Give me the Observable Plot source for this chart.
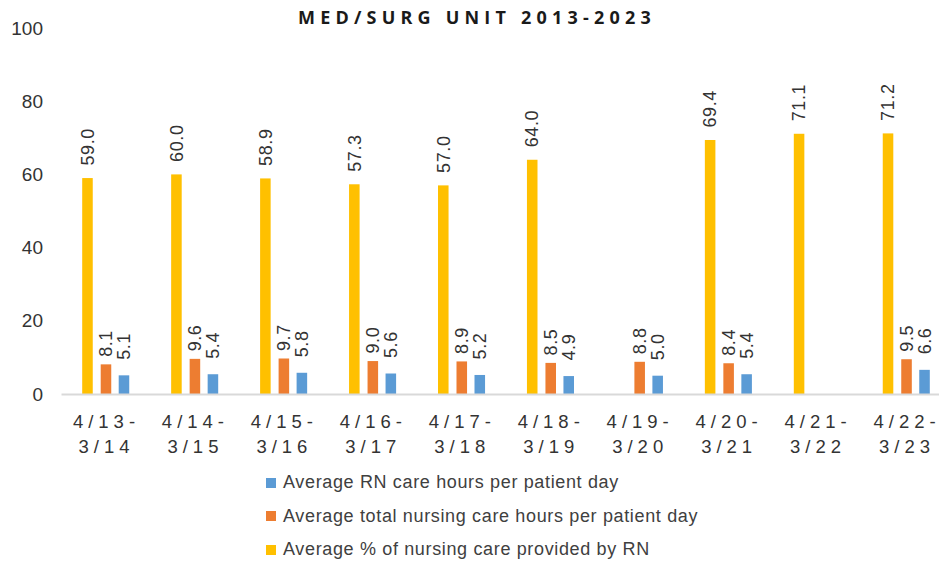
<!DOCTYPE html>
<html>
<head>
<meta charset="utf-8">
<script src="https://cdn.jsdelivr.net/npm/d3@7"></script>
<script src="https://cdn.jsdelivr.net/npm/@observablehq/plot@0.6"></script>
<style>
  html, body { margin: 0; padding: 0; background: #fff; overflow: hidden; }
  body { position: relative; width: 939px; height: 562px; font-family: "Liberation Sans", Arial, sans-serif; color: #404040; }
  #title { position: absolute; left: 298px; top: 4px; white-space: nowrap;
           font-family: "Open Sans", "Liberation Sans", sans-serif; font-weight: bold; font-size: 18px; letter-spacing: 5.2px; color: #1a1a1a; line-height: 26px; }
  #chart { position: absolute; left: 0; top: 0; width: 951px; }
  #chart svg { display: block; overflow: visible; max-width: none !important; }
  #chart g[aria-label="x-axis tick label"] text { letter-spacing: 5px; }
  #chart g[aria-label="text"] text { letter-spacing: 0.6px; }
  #legend { position: absolute; left: 266px; top: 466px; font-size: 18px; letter-spacing: 0.65px; color: #404040; }
  .item { display: flex; align-items: center; height: 33.5px; }
  .sw { width: 10px; height: 10px; margin-right: 7px; flex: none; }
</style>
</head>
<body>
<div id="chart"></div>
<div id="title">MED/SURG UNIT 2013-2023</div>
<div id="legend"></div>
<script>
const periods = ["4/13-3/14", "4/14-3/15", "4/15-3/16", "4/16-3/17", "4/17-3/18", "4/18-3/19", "4/19-3/20", "4/20-3/21", "4/21-3/22", "4/22-3/23"];
const rnHours = [5.1, 5.4, 5.8, 5.6, 5.2, 4.9, 5.0, 5.4, null, 6.6];
const totalHours = [8.1, 9.6, 9.7, 9.0, 8.9, 8.5, 8.8, 8.4, null, 9.5];
const rnPercent = [59.0, 60.0, 58.9, 57.3, 57.0, 64.0, null, 69.4, 71.1, 71.2];
const yTicks = [0, 20, 40, 60, 80, 100];
const seriesNames = ["Average RN care hours per patient day", "Average total nursing care hours per patient day", "Average % of nursing care provided by RN"];
const seriesColors = ["#5B9BD5", "#ED7D31", "#FFC000"];

const rows = (vals) => periods.map((p, i) => ({period: p, value: vals[i]})).filter(d => d.value != null);
const series = [
  {data: rows(rnPercent), color: seriesColors[2], dx: -18.5, gap: 13},
  {data: rows(totalHours), color: seriesColors[1], dx: 0, gap: 8},
  {data: rows(rnHours), color: seriesColors[0], dx: 18, gap: 16}
];
const W = 951, step = 88.9, barW = 10.5;
const inset = (step - barW) / 2;
const fmt = d3.format(".1f");

const marks = [];
for (const s of series) {
  marks.push(Plot.barY(s.data, {x: "period", y: "value", fill: s.color, dx: s.dx, insetLeft: inset, insetRight: inset}));
}
marks.push(Plot.ruleY([0], {stroke: "#d9d9d9", strokeWidth: 2}));
for (const s of series) {
  marks.push(Plot.text(s.data, {x: "period", y: "value", text: d => fmt(d.value), rotate: -90, textAnchor: "start", lineAnchor: "middle",
    dx: s.dx, dy: -s.gap, fontSize: 18, fill: "#333"}));
}
marks.push(Plot.axisY({ticks: yTicks, tickSize: 0, tickPadding: 19, fontSize: 19, fill: "#333", label: null}));
marks.push(Plot.axisX({tickSize: 0, tickPadding: 15, fontSize: 18.5, fill: "#333", lineHeight: 1.38, label: null, tickFormat: d => d.replace("-", "-\n")}));

const chart = Plot.plot({
  width: W,
  height: 470,
  marginTop: 28,
  marginBottom: 76,
  marginLeft: 61.5,
  marginRight: 0,
  style: {fontFamily: "'Liberation Sans', Arial, sans-serif", background: "transparent", maxWidth: "none"},
  x: {domain: periods, padding: 0, round: false, axis: null, label: null},
  y: {domain: [0, 100], axis: null, label: null},
  marks
});
chart.style.maxWidth = "none";
document.getElementById("chart").appendChild(chart);

const legend = document.getElementById("legend");
seriesNames.forEach((name, i) => {
  const item = document.createElement("div");
  item.className = "item";
  const sw = document.createElement("span");
  sw.className = "sw";
  sw.style.background = seriesColors[i];
  const label = document.createElement("span");
  label.textContent = name;
  item.appendChild(sw);
  item.appendChild(label);
  legend.appendChild(item);
});
</script>
</body>
</html>
